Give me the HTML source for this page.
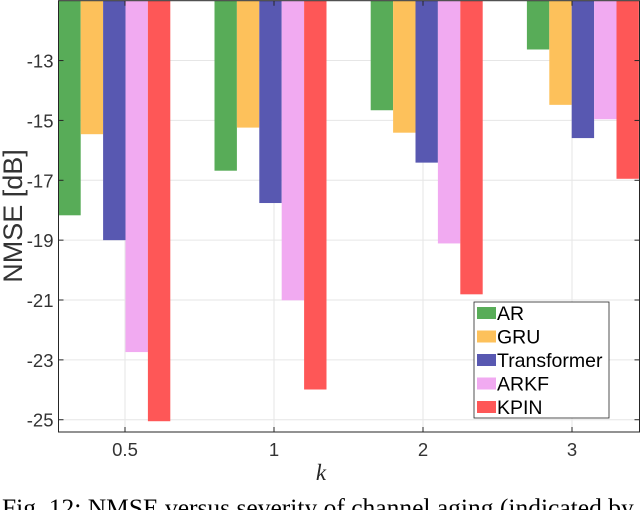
<!DOCTYPE html>
<html><head><meta charset="utf-8"><style>
body{margin:0;background:#fff;width:640px;height:510px;overflow:hidden;font-family:"Liberation Sans",sans-serif}
svg{display:block}
</style></head><body>
<svg id="chart" width="640" height="510" xmlns="http://www.w3.org/2000/svg">
<g id="grid"></g>
<g id="bars"></g>
<g id="axes"></g>
<text transform="translate(22,216) rotate(-90)" text-anchor="middle" font-size="27" fill="#333">NMSE [dB]</text>
<text x="321" y="480" text-anchor="middle" font-size="23" font-style="italic" font-family="Liberation Serif,serif" fill="#262626">k</text>
<text x="2" y="516" font-size="25.5" font-family="Liberation Serif,serif" fill="#000">Fig. 12: NMSE versus severity of channel aging (indicated by</text>
<g id="legend"></g>
</svg>
<script>
const categories=["0.5","1","2","3"];
const seriesNames=["AR","GRU","Transformer","ARKF","KPIN"];
const AR=[-18.17,-16.68,-14.66,-12.63];
const GRU=[-15.46,-15.24,-15.41,-14.48];
const Transformer=[-19.0,-17.76,-16.41,-15.59];
const ARKF=[-22.74,-21.01,-19.11,-14.96];
const KPIN=[-25.05,-23.99,-20.81,-16.95];
const yTicks=[-13,-15,-17,-19,-21,-23,-25];
const colors=["#58ac58","#fdc15b","#5858b1","#f1aaf1","#fe5757"];
const series=[AR,GRU,Transformer,ARKF,KPIN];
const NS="http://www.w3.org/2000/svg";
const L=58.5,R=639.5,T=0.7,B=432;
const yTop=-11,yBot=-25.41;
function y(v){return T+(yTop-v)/(yTop-yBot)*(B-T);}
function tickX(i){return 125+149*i;}
function groupX(i){return 58.3+156.2*i;}
const BW=22.4;
function mk(tag,attrs,parent){const e=document.createElementNS(NS,tag);for(const k in attrs)e.setAttribute(k,attrs[k]);parent.appendChild(e);return e;}
const grid=document.getElementById('grid'),bars=document.getElementById('bars'),axes=document.getElementById('axes'),leg=document.getElementById('legend');
yTicks.forEach(t=>{
  const g=mk('line',{x1:L,x2:R,y1:y(t),y2:y(t),stroke:"#e6e6e6","stroke-width":1},grid);
  
  
  const tl=mk('text',{x:L-5,y:y(t)+7,"text-anchor":"end","font-size":18.5,fill:"#333"},axes);
  tl.textContent=t;
  
  
  mk('line',{x1:L,x2:L+5,y1:y(t),y2:y(t),stroke:"#262626"},axes);
  mk('line',{x1:R,x2:R-5,y1:y(t),y2:y(t),stroke:"#262626"},axes);
});
categories.forEach((c,i)=>{
  const g=mk('line',{x1:tickX(i),x2:tickX(i),y1:T,y2:B,stroke:"#e6e6e6","stroke-width":1},grid);
  
  
  const tl=mk('text',{x:tickX(i),y:B+24,"text-anchor":"middle","font-size":18.5,fill:"#333"},axes);
  tl.textContent=c;
  
  
  mk('line',{x1:tickX(i),x2:tickX(i),y1:B,y2:B-5,stroke:"#262626"},axes);
  mk('line',{x1:tickX(i),x2:tickX(i),y1:T,y2:T+5,stroke:"#262626"},axes);
  series.forEach((s,j)=>{
    const x0=groupX(i)+BW*j;
    const r=mk('rect',{x:x0,y:T,width:BW,height:Math.max(0,y(s[i])-T),fill:colors[j]},bars);
    
    
  });
});
mk('rect',{x:L,y:T,width:R-L,height:B-T,fill:"none",stroke:"#262626","stroke-width":1},axes);
mk('rect',{x:474,y:302,width:135,height:116,fill:"#fff",stroke:"#262626","stroke-width":0.8},leg);
seriesNames.forEach((n,j)=>{
  const cy=313+23.5*j;
  const sw=mk('rect',{x:477,y:cy-6,width:19,height:12,fill:colors[j]},leg);
  
  
  const t=mk('text',{x:497,y:cy+7,"font-size":19.5,fill:"#000"},leg);
  t.textContent=n;
  
  
});
</script>
</body></html>
